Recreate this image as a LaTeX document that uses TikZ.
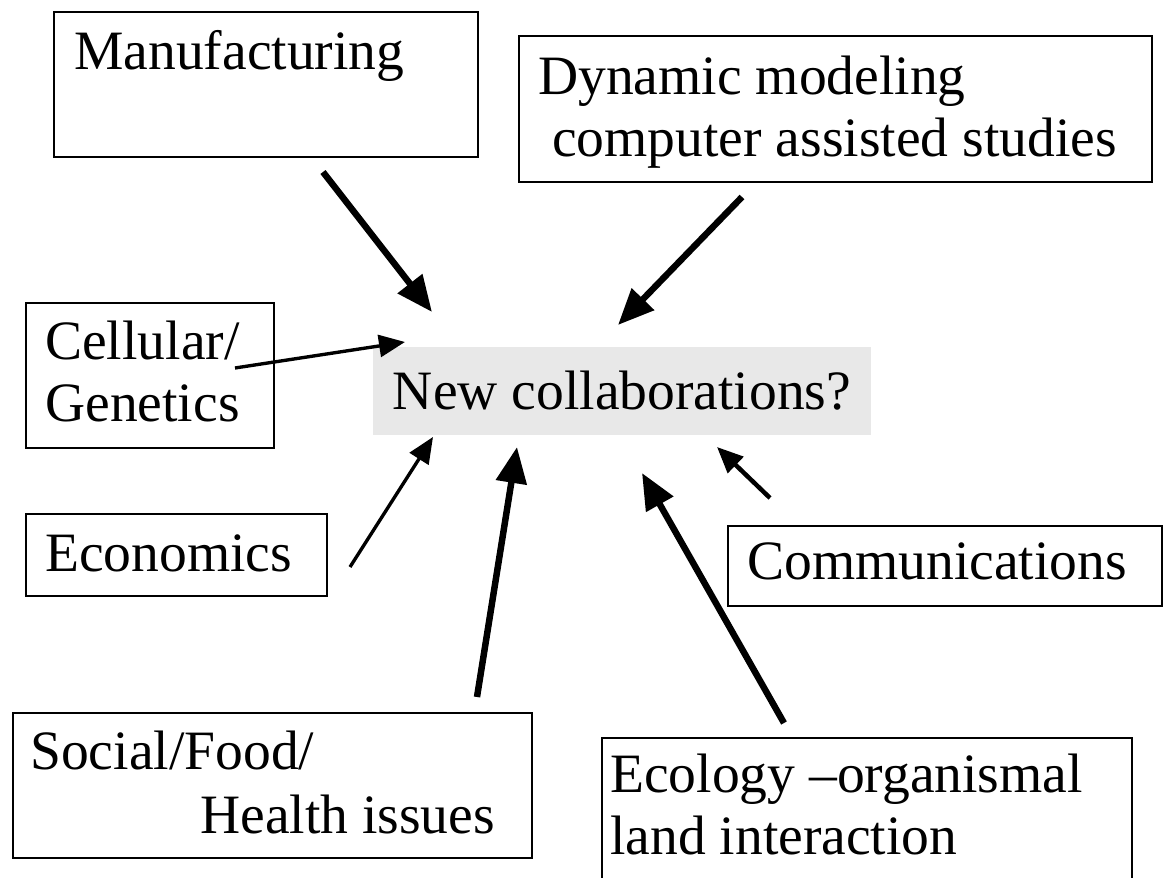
\documentclass[tikz,border=0pt]{standalone}
\usepackage{fontspec}
\setmainfont{Liberation Serif}
\usetikzlibrary{arrows.meta}

\begin{document}
\begin{tikzpicture}[x=0.025cm, y=-0.025cm,
    box/.style={draw, line width=1.4pt, anchor=north west, inner sep=0pt},
    txt/.style={anchor=base west, inner sep=0pt, font=\fontsize{39.5}{44}\selectfont},
    hub/.style={fill=black!9, anchor=base, inner xsep=0.5cm, inner ysep=0.6cm, font=\fontsize{39.5}{44}\selectfont},
    fatarrow/.style={line width=4.6pt, -{Triangle[length=0.9cm,width=0.75cm]}},
    slimarrow/.style={line width=2.4pt, -{Triangle[length=0.65cm,width=0.55cm]}}]
  \useasboundingbox (0,0) rectangle (1166,878);
  % boxes
  \node[box, minimum width=10.6cm,   minimum height=3.625cm] (manu)   at (53,11)   {};
  \node[box, minimum width=15.825cm, minimum height=3.65cm]  (dyn)    at (518,35)  {};
  \node[box, minimum width=6.2cm,    minimum height=3.625cm] (cell)   at (25,302)  {};
  \node[box, minimum width=7.525cm,  minimum height=2.05cm]  (econ)   at (25,513)  {};
  \node[box, minimum width=12.975cm, minimum height=3.625cm] (social) at (12,712)  {};
  \node[box, minimum width=10.85cm,  minimum height=2cm]     (comm)   at (727,525) {};
  \node[box, minimum width=13.25cm,  minimum height=3.825cm] (eco)    at (601,737) {};
  % texts
  \node[txt] (manu-t)    at (74,70)   {Manufacturing};
  \node[txt] (dyn-t1)    at (538,95)  {Dynamic modeling};
  \node[txt] (dyn-t2)    at (552,157) {computer assisted studies};
  \node[txt] (cell-t1)   at (45,360)  {Cellular/};
  \node[txt] (cell-t2)   at (45,422)  {Genetics};
  \node[txt] (econ-t)    at (45,572)  {Economics};
  \node[txt] (social-t1) at (30,770)  {Social/Food/};
  \node[txt] (social-t2) at (200,833) {Health issues};
  \node[txt] (comm-t)    at (747,580) {Communications};
  \node[txt] (eco-t1)    at (610,793) {Ecology –organismal};
  \node[txt] (eco-t2)    at (610,855) {land interaction};
  \node[hub] (hub) at (622,410) {New collaborations?};
  % arrow ends
  \coordinate (manu-out)   at (323,172);  \coordinate (manu-in)   at (432,312);
  \coordinate (dyn-out)    at (742,197);  \coordinate (dyn-in)    at (618,325);
  \coordinate (cell-out)   at (235,368);  \coordinate (cell-in)   at (405,342);
  \coordinate (econ-out)   at (350,567);  \coordinate (econ-in)   at (433,437);
  \coordinate (social-out) at (477,697);  \coordinate (social-in) at (517,447);
  \coordinate (eco-out)    at (784,723);  \coordinate (eco-in)    at (642,473);
  \coordinate (comm-out)   at (770,498);  \coordinate (comm-in)   at (717,447);
  \draw[fatarrow] (manu-out) -- (manu-in);
  \draw[fatarrow] (dyn-out) -- (dyn-in);
  \draw[fatarrow] (social-out) -- (social-in);
  \draw[fatarrow] (eco-out) -- (eco-in);
  \draw[slimarrow] (cell-out) -- (cell-in);
  \draw[slimarrow] (econ-out) -- (econ-in);
  \draw[slimarrow, line width=3.2pt] (comm-out) -- (comm-in);
\end{tikzpicture}
\end{document}
